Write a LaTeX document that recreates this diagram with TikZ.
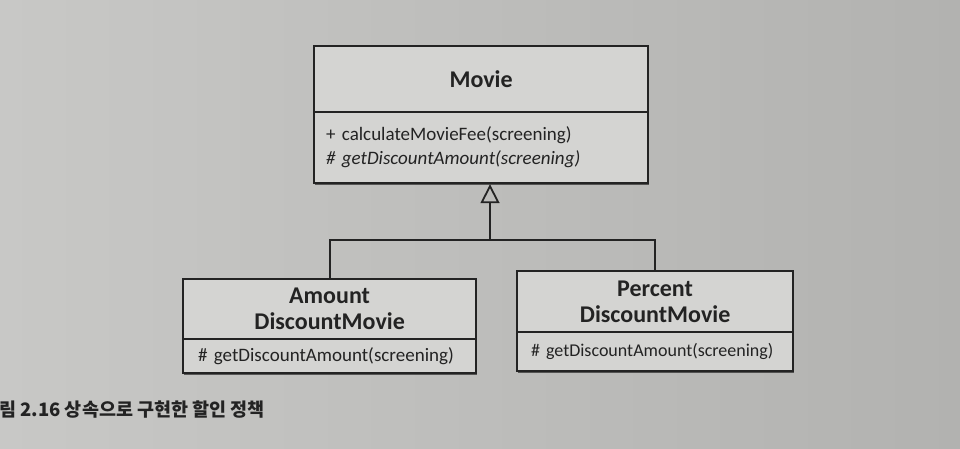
\documentclass[tikz,border=0pt]{standalone}
\usepackage{fontspec}
\setmainfont{Carlito}
\newfontfamily\cjk{Noto Sans CJK KR}
\usetikzlibrary{shadows,arrows.meta}
\definecolor{bgA}{RGB}{200,200,198}
\definecolor{bgB}{RGB}{178,178,176}
\definecolor{boxfill}{RGB}{212,212,210}
\definecolor{ink}{RGB}{35,35,35}
\begin{document}
\begin{tikzpicture}[x=1pt,y=-1pt,
  boxbase/.style={draw=ink, line width=2.2pt, fill=boxfill, anchor=north west, inner ysep=0pt,
    text=ink, drop shadow={shadow xshift=1pt, shadow yshift=-2pt, opacity=0.55, fill=black}},
  titlebox/.style={boxbase, inner xsep=0pt, align=center, font=\fontsize{24}{26}\selectfont\bfseries},
  methbox/.style={boxbase, align=left, font=\fontsize{19}{24}\selectfont},
  link/.style={draw=ink, line width=1.8pt},
]
\useasboundingbox (0,0) rectangle (960,449);
\shade[left color=bgA, right color=bgB] (0,0) rectangle (960,449);

% Movie
\node[titlebox, minimum width=334pt, text width=334pt, minimum height=66pt] (mt) at (313,45) {Movie};
\node[methbox, minimum width=334pt, inner xsep=12pt, text width=310pt, minimum height=71pt] (mm) at (313,111)
  {+ calculateMovieFee(screening)\\\itshape \# getDiscountAmount(screening)};

% AmountDiscountMovie
\node[titlebox, minimum width=293pt, text width=293pt, minimum height=60pt] (at) at (182,278) {Amount\\DiscountMovie};
\node[methbox, minimum width=293pt, inner xsep=15pt, text width=263pt, minimum height=34pt] (am) at (182,338)
  {\# getDiscountAmount(screening)};

% PercentDiscountMovie
\node[titlebox, minimum width=276pt, text width=276pt, minimum height=61pt] (pt) at (516,270) {Percent\\DiscountMovie};
\node[methbox, minimum width=276pt, inner xsep=14pt, text width=248pt, minimum height=39pt,
  font=\fontsize{18}{22}\selectfont] (pm) at (516,331)
  {\mbox{\# getDiscountAmount(screening)}};

% generalization
\coordinate (join) at (490,240);
\draw[link] (at.north) |- (join) -| (pt.north);
\draw[link, -{Triangle[open, width=19pt, length=19pt, line width=1.8pt]}] (join) -- (join |- mm.south);

% caption
\node[anchor=west, inner sep=0pt, text=ink, font=\cjk\bfseries\fontsize{18.5}{22}\selectfont] (cap) at (-1,410)
  {림 2.16 상속으로 구현한 할인 정책};
\end{tikzpicture}
\end{document}
